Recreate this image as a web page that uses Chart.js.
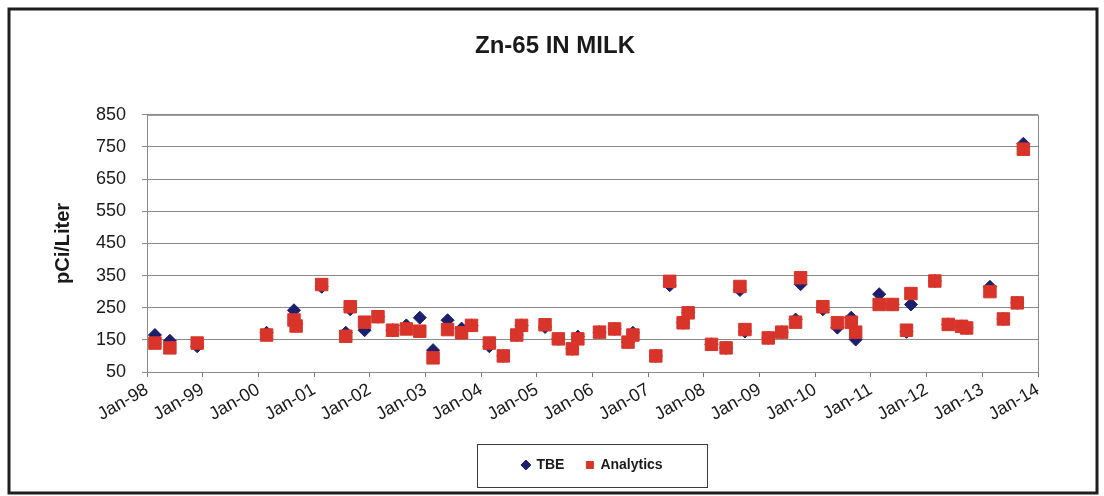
<!DOCTYPE html>
<html>
<head>
<meta charset="utf-8">
<title>Zn-65 IN MILK</title>
<script src="https://cdn.jsdelivr.net/npm/chart.js@4.4.1/dist/chart.umd.min.js"></script>
<style>
    html, body { margin: 0; padding: 0; background: #fff; }
    #wrap { width: 1104px; height: 496px; }
</style>
</head>
<body>
<div id="wrap"><canvas id="znChart" width="1104" height="496"></canvas></div>
<script>
// Sample collection dates
const sampleDates = [
    '1998-02-22', '1998-05-31', '1998-11-26',
    '2000-02-24', '2000-08-22', '2000-09-05',
    '2001-02-20', '2001-07-28', '2001-08-26', '2001-11-28',
    '2002-02-24', '2002-05-30', '2002-08-29', '2002-11-25',
    '2003-02-20', '2003-05-26', '2003-08-26', '2003-10-30',
    '2004-02-24', '2004-05-26', '2004-08-22', '2004-09-23',
    '2005-02-24', '2005-05-22', '2005-08-22', '2005-09-27',
    '2006-02-16', '2006-05-26', '2006-08-22', '2006-09-23',
    '2007-02-20', '2007-05-22', '2007-08-18', '2007-09-20',
    '2008-02-20', '2008-05-26', '2008-08-25', '2008-09-27',
    '2009-02-27', '2009-05-26', '2009-08-25', '2009-09-27',
    '2010-02-20', '2010-05-26', '2010-08-25', '2010-09-23',
    '2011-02-24', '2011-05-22', '2011-08-22', '2011-09-20',
    '2012-02-24', '2012-05-22', '2012-08-18', '2012-09-20',
    '2013-02-20', '2013-05-19', '2013-08-18', '2013-09-27'
];

// pCi/Liter
const tbeValues = [
    165, 147, 130,
    172, 242, 200,
    315, 172, 245, 180,
    222, 180, 195, 219,
    118, 211, 185, 195,
    130, 100, 165, 195,
    190, 153, 122, 160,
    174, 184, 143, 172,
    100, 320, 203, 234,
    136, 125, 305, 176,
    156, 174, 213, 323,
    245, 188, 219, 151,
    292, 260, 175, 260,
    333, 198, 192, 187,
    315, 215, 265, 760
];

const analyticsValues = [
    140, 125, 140,
    165, 212, 193,
    322, 161, 253, 205,
    222, 180, 184, 177,
    94, 182, 172, 195,
    140, 100, 165, 195,
    197, 153, 122, 153,
    174, 184, 143, 165,
    100, 332, 203, 234,
    136, 125, 316, 182,
    156, 174, 205, 343,
    253, 203, 205, 174,
    260, 260, 180, 294,
    333, 198, 192, 187,
    300, 215, 265, 743
];

const yearLabels = ['Jan-98', 'Jan-99', 'Jan-00', 'Jan-01', 'Jan-02', 'Jan-03', 'Jan-04', 'Jan-05',
    'Jan-06', 'Jan-07', 'Jan-08', 'Jan-09', 'Jan-10', 'Jan-11', 'Jan-12', 'Jan-13', 'Jan-14'];
const firstYear = 1998;
const yTicks = [50, 150, 250, 350, 450, 550, 650, 750, 850];

const FONT = "'Liberation Sans', Arial, sans-serif";

function toYear(s) {
    const [y, m, d] = s.split('-').map(Number);
    const start = Date.UTC(y, 0, 1);
    const end = Date.UTC(y + 1, 0, 1);
    return y + (Date.UTC(y, m - 1, d) - start) / (end - start);
}

function toPoints(values) {
    return sampleDates.map((d, i) => ({ x: toYear(d), y: values[i] }));
}

// outer frame, plot border and the box round the legend
const framePlugin = {
    id: 'frames',
    beforeDraw(chart) {
        const ctx = chart.ctx;
        ctx.save();
        ctx.fillStyle = '#ffffff';
        ctx.fillRect(0, 0, chart.width, chart.height);
        ctx.strokeStyle = '#1e1e1e';
        ctx.lineWidth = 3;
        ctx.strokeRect(9, 9, 1088, 484);
        ctx.restore();
    },
    beforeDatasetsDraw(chart) {
        const a = chart.chartArea;
        const ctx = chart.ctx;
        ctx.save();
        ctx.strokeStyle = '#8a8a8a';
        ctx.lineWidth = 1;
        ctx.strokeRect(a.left + 0.5, a.top + 0.5, a.right - a.left, a.bottom - a.top);
        ctx.restore();
    },
    afterDraw(chart) {
        const boxes = chart.legend.legendHitBoxes;
        if (!boxes || !boxes.length) return;
        const left = Math.min(...boxes.map(b => b.left));
        const right = Math.max(...boxes.map(b => b.left + b.width));
        const cy = boxes[0].top + boxes[0].height / 2;
        const ctx = chart.ctx;
        ctx.save();
        ctx.strokeStyle = '#3a3a3a';
        ctx.lineWidth = 1;
        ctx.strokeRect(Math.round(left - 45) + 0.5, Math.round(cy - 21.5) + 0.5, Math.round(right - left + 90), 43);
        ctx.restore();
    }
};

new Chart(document.getElementById('znChart'), {
    type: 'scatter',
    data: {
        datasets: [
            {
                label: 'TBE',
                data: toPoints(tbeValues),
                pointStyle: 'rectRot',
                pointRadius: 6.5,
                backgroundColor: '#1c1f6b',
                borderColor: '#1c1f6b',
                borderWidth: 1,
                order: 1
            },
            {
                label: 'Analytics',
                data: toPoints(analyticsValues),
                pointStyle: 'rect',
                pointRadius: 8.8,
                backgroundColor: '#d8342a',
                borderColor: '#d8342a',
                borderWidth: 1,
                order: 0
            }
        ]
    },
    options: {
        responsive: false,
        animation: false,
        layout: {
            padding: { left: 10, right: 4, top: 20, bottom: 14 }
        },
        plugins: {
            title: {
                display: true,
                text: 'Zn-65 IN MILK',
                color: '#1a1a1a',
                font: { family: FONT, size: 24, weight: 'bold' },
                padding: { top: 12, bottom: 54 }
            },
            legend: {
                display: true,
                position: 'bottom',
                fullSize: false,
                labels: {
                    usePointStyle: true,
                    boxWidth: 7,
                    boxHeight: 7,
                    padding: 22,
                    color: '#1a1a1a',
                    font: { family: FONT, size: 14, weight: 'bold' },
                    sort: (a, b) => a.datasetIndex - b.datasetIndex
                }
            },
            tooltip: { enabled: false }
        },
        scales: {
            x: {
                type: 'linear',
                min: firstYear,
                max: firstYear + yearLabels.length - 1,
                afterFit(scale) { scale.height = 64; },
                grid: {
                    drawOnChartArea: false,
                    drawTicks: true,
                    tickLength: 5,
                    color: '#777777'
                },
                border: { display: true, color: '#777777' },
                ticks: {
                    stepSize: 1,
                    autoSkip: false,
                    maxRotation: 30,
                    minRotation: 30,
                    padding: 2,
                    color: '#1a1a1a',
                    font: { family: FONT, size: 18 },
                    callback: (v) => yearLabels[Math.round(v) - firstYear]
                }
            },
            y: {
                min: yTicks[0],
                max: yTicks[yTicks.length - 1],
                afterFit(scale) { scale.width = 137; },
                grid: {
                    color: '#8a8a8a',
                    tickLength: 5
                },
                border: { display: true, color: '#777777' },
                ticks: {
                    stepSize: yTicks[1] - yTicks[0],
                    padding: 16,
                    color: '#1a1a1a',
                    font: { family: FONT, size: 18 }
                },
                title: {
                    display: true,
                    text: 'pCi/Liter',
                    color: '#1a1a1a',
                    font: { family: FONT, size: 20, weight: 'bold' },
                    padding: { top: 41, bottom: 0 }
                }
            },
            // empty right-hand margin so the title stays centred on the page
            yRight: {
                type: 'linear',
                position: 'right',
                afterFit(scale) { scale.width = 62; },
                grid: { display: false },
                border: { display: false },
                ticks: { display: false }
            }
        }
    },
    plugins: [framePlugin]
});
</script>
</body>
</html>
